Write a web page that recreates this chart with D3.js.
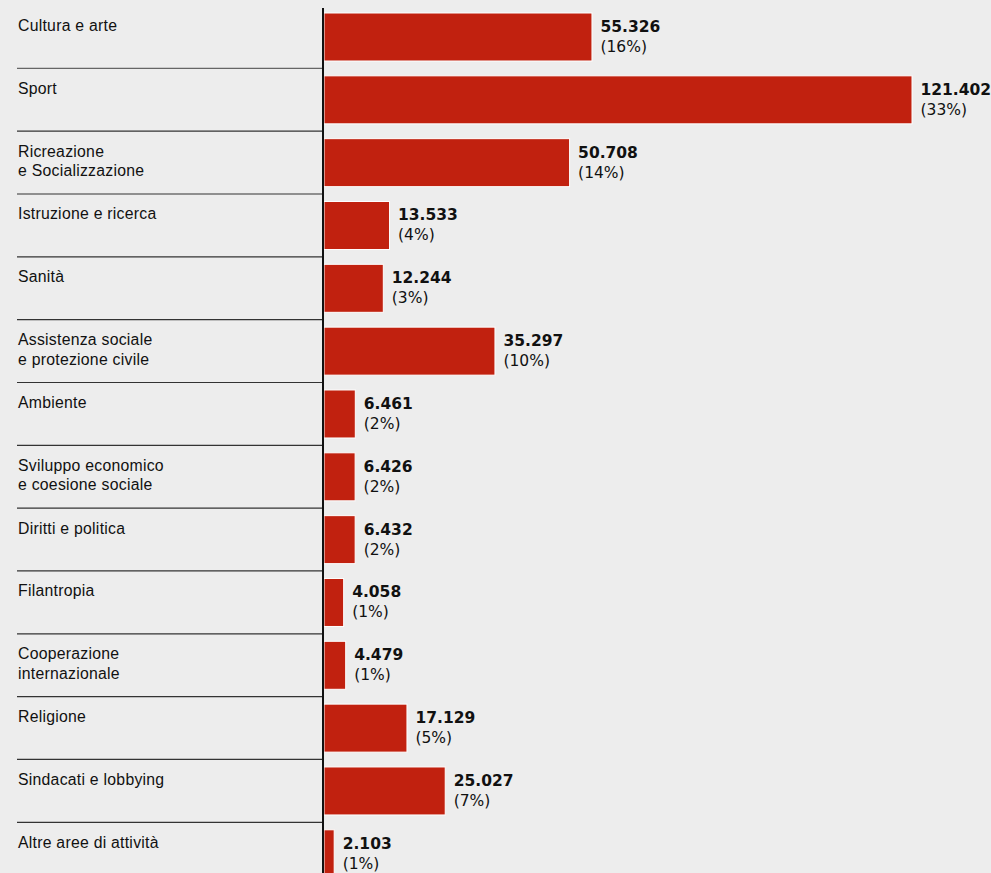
<!DOCTYPE html>
<html>
<head>
<meta charset="utf-8">
<script src="https://cdn.jsdelivr.net/npm/d3@7"></script>
<style>
  html, body { margin: 0; padding: 0; background: #ededed; }
  svg { display: block; }
  .cat { font-family: "Liberation Sans", Arial, sans-serif; font-size: 15.8px; letter-spacing: 0.25px; fill: #111; }
  .val { font-family: "DejaVu Sans", sans-serif; font-size: 15.5px; fill: #111; }
</style>
</head>
<body>
<svg id="chart"></svg>
<script>
// categories (two-line labels split on "|")
var categories = [
  "Cultura e arte",
  "Sport",
  "Ricreazione|e Socializzazione",
  "Istruzione e ricerca",
  "Sanità",
  "Assistenza sociale|e protezione civile",
  "Ambiente",
  "Sviluppo economico|e coesione sociale",
  "Diritti e politica",
  "Filantropia",
  "Cooperazione|internazionale",
  "Religione",
  "Sindacati e lobbying",
  "Altre aree di attività"
];

var values = [55326, 121402, 50708, 13533, 12244, 35297, 6461, 6426, 6432, 4058, 4479, 17129, 25027, 2103];

var value_labels = ["55.326", "121.402", "50.708", "13.533", "12.244", "35.297", "6.461",
  "6.426", "6.432", "4.058", "4.479", "17.129", "25.027", "2.103"];

var pct_labels = ["(16%)", "(33%)", "(14%)", "(4%)", "(3%)", "(10%)", "(2%)",
  "(2%)", "(2%)", "(1%)", "(1%)", "(5%)", "(7%)", "(1%)"];

var width = 991, height = 873;
var row_h = 62.83;
var top_off = 5.5;
var axis_x = 323;

var svg = d3.select("#chart")
  .attr("width", width)
  .attr("height", height);

svg.append("rect")
  .attr("width", width).attr("height", height)
  .attr("fill", "#ededed");

var y = d3.scaleBand()
  .domain(d3.range(categories.length))
  .range([top_off, top_off + row_h * categories.length])
  .padding(0);

var x = d3.scaleLinear()
  .domain([0, 121402])
  .range([axis_x + 1, 912]);

var rows = svg.selectAll("g.row")
  .data(categories)
  .enter().append("g")
  .attr("class", "row")
  .attr("transform", function(d, i) { return "translate(0," + y(i) + ")"; });

// separator lines below each row except the last
rows.filter(function(d, i) { return i < categories.length - 1; })
  .append("line")
  .attr("x1", 17).attr("x2", axis_x)
  .attr("y1", row_h).attr("y2", row_h)
  .attr("stroke", function(d, i) { return i === 0 ? "#666" : "#333"; })
  .attr("stroke-width", 1.2);

// category labels
rows.append("text")
  .attr("class", "cat")
  .attr("x", 18)
  .attr("y", 25.5)
  .selectAll("tspan")
  .data(function(d) { return d.split("|"); })
  .enter().append("tspan")
  .attr("x", 18)
  .attr("dy", function(d, i) { return i === 0 ? 0 : 19.5; })
  .text(function(d) { return d; });

// bars
rows.append("rect")
  .attr("x", x(0))
  .attr("y", 7.5)
  .attr("width", function(d, i) { return x(values[i]) - x(0); })
  .attr("height", 48)
  .attr("fill", "#c1210f")
  .attr("stroke", "#ffffff")
  .attr("stroke-width", 1);

// value labels
var vt = rows.append("text")
  .attr("class", "val")
  .attr("y", 26.5);

vt.append("tspan")
  .attr("x", function(d, i) { return x(values[i]) + 8.5; })
  .attr("font-weight", "bold")
  .text(function(d, i) { return value_labels[i]; });

vt.append("tspan")
  .attr("x", function(d, i) { return x(values[i]) + 8.5; })
  .attr("dy", 20)
  .text(function(d, i) { return pct_labels[i]; });

// vertical axis line
svg.append("line")
  .attr("x1", axis_x).attr("x2", axis_x)
  .attr("y1", 8).attr("y2", height)
  .attr("stroke", "#111")
  .attr("stroke-width", 2);
</script>
</body>
</html>
